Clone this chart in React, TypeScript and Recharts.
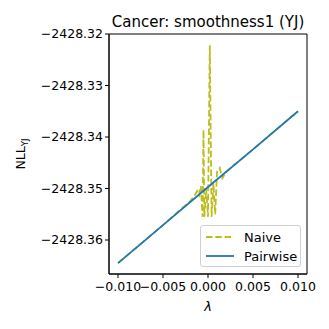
import React from 'react';
import { LineChart, Line, XAxis, YAxis, ReferenceArea, Label } from 'recharts';

const pairwiseLambda = [-0.01, -0.005, 0, 0.005, 0.01];
const pairwiseNLL = [-2428.3645, -2428.3571, -2428.3497, -2428.3424, -2428.335];

const naiveLambda = [
  -0.01, -0.005, -0.003, -0.002, -0.0015, -0.0012, -0.001, -0.0008, -0.0006, -0.0005,
  -0.0004, -0.0002, 0, 0.0002, 0.0004, 0.0006, 0.0008, 0.001, 0.0013, 0.0016,
  0.002, 0.003, 0.005, 0.01,
];
const naiveNLL = [
  -2428.3645, -2428.3571, -2428.3540, -2428.3525, -2428.3514, -2428.3505, -2428.3513, -2428.3495, -2428.3555, -2428.3386,
  -2428.3555, -2428.3500, -2428.3555, -2428.3222, -2428.3555, -2428.3490, -2428.3550, -2428.3468, -2428.3460, -2428.3480,
  -2428.3468, -2428.3453, -2428.3424, -2428.335,
];

const xTicks = [-0.01, -0.005, 0, 0.005, 0.01];
const yTicks = [-2428.36, -2428.35, -2428.34, -2428.33, -2428.32];

const title = 'Cancer: smoothness1 (YJ)';
const xLabel = 'λ';
const seriesNames = ['Naive', 'Pairwise'];

const pairwiseData = pairwiseLambda.map((x, i) => ({ x, y: pairwiseNLL[i] }));
const naiveData = naiveLambda.map((x, i) => ({ x, y: naiveNLL[i] }));

const X_DOMAIN: [number, number] = [-0.011, 0.011];
const Y_DOMAIN: [number, number] = [-2428.3666, -2428.32];

const FONT = '"DejaVu Sans", sans-serif';
const minus = (s: string) => s.replace('-', '\u2212');

const YLabel = (props: any) => {
  const cy = 154;
  return (
    <text
      x={0}
      y={0}
      transform={`translate(25, ${cy}) rotate(-90)`}
      textAnchor="middle"
      fontFamily={FONT}
      fontSize={12.5}
      fill="#000"
    >
      NLL
      <tspan fontSize={8.5} dy={3}>YJ</tspan>
    </text>
  );
};

export default function App() {
  return (
    <div style={{ position: 'absolute', left: 0, top: 0, width: 329, height: 329, background: '#fff', fontFamily: FONT }}>
      <div
        style={{
          position: 'absolute',
          left: 109,
          width: 198,
          top: 13,
          textAlign: 'center',
          fontSize: 15,
          lineHeight: '18px',
          color: '#000',
          whiteSpace: 'nowrap',
        }}
      >
        {title}
      </div>
      <LineChart
        width={329}
        height={329}
        margin={{ top: 34, right: 22, bottom: 0, left: 0 }}
      >
        <XAxis
          type="number"
          dataKey="x"
          domain={X_DOMAIN}
          ticks={xTicks}
          allowDataOverflow
          tickFormatter={(v: number) => minus(v.toFixed(3))}
          tick={{ fontSize: 12.5, fill: '#000', fontFamily: FONT }}
          tickSize={4}
          tickMargin={4}
          tickLine={{ stroke: '#000' }}
          axisLine={{ stroke: '#000' }}
          height={55}
          interval={0}
        >
          <Label value={xLabel} position="insideTop" offset={28} style={{ fontSize: 13, fill: '#000', fontFamily: FONT, fontStyle: 'italic' }} />
        </XAxis>
        <YAxis
          type="number"
          dataKey="y"
          domain={Y_DOMAIN}
          ticks={yTicks}
          allowDataOverflow
          tickFormatter={(v: number) => minus(v.toFixed(2))}
          tick={{ fontSize: 12.5, fill: '#000', fontFamily: FONT }}
          tickSize={4}
          tickLine={{ stroke: '#000' }}
          axisLine={{ stroke: '#000' }}
          width={109}
          interval={0}
        >
          <Label content={<YLabel />} />
        </YAxis>
        <ReferenceArea
          x1={X_DOMAIN[0]}
          x2={X_DOMAIN[1]}
          y1={Y_DOMAIN[0]}
          y2={Y_DOMAIN[1]}
          fill="none"
          stroke="#000"
          strokeWidth={1}
          ifOverflow="visible"
        />
        <Line
          data={naiveData}
          dataKey="y"
          type="linear"
          stroke="#bcbd22"
          strokeWidth={1.8}
          strokeDasharray="6.5 2.8"
          dot={false}
          isAnimationActive={false}
        />
        <Line
          data={pairwiseData}
          dataKey="y"
          type="linear"
          stroke="#1f77b4"
          strokeWidth={1.8}
          dot={false}
          isAnimationActive={false}
        />
      </LineChart>
      <div
        style={{
          position: 'absolute',
          left: 200,
          top: 225,
          width: 101,
          height: 42,
          border: '1px solid #d0d0d0',
          borderRadius: 3,
          background: 'rgba(255,255,255,0.8)',
          boxSizing: 'border-box',
          fontSize: 13,
        }}
      >
        {seriesNames.map((name, i) => (
          <div key={name} style={{ position: 'absolute', left: 4, top: 3 + i * 19, height: 16, display: 'flex', alignItems: 'center' }}>
            <svg width={30} height={16}>
              <line
                x1={1}
                x2={29}
                y1={8}
                y2={8}
                stroke={i === 0 ? '#bcbd22' : '#1f77b4'}
                strokeWidth={1.8}
                strokeDasharray={i === 0 ? '6.5 2.8' : undefined}
              />
            </svg>
            <span style={{ marginLeft: 9 }}>{name}</span>
          </div>
        ))}
      </div>
    </div>
  );
}
